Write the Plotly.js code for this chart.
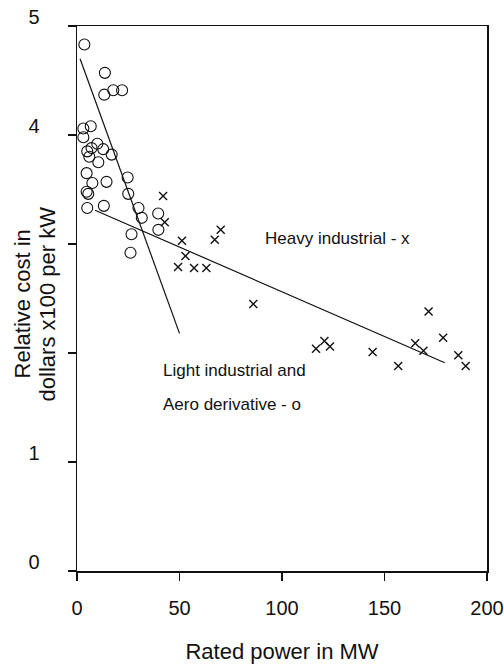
<!DOCTYPE html>
<html>
<head>
<meta charset="utf-8">
<script src="https://cdn.plot.ly/plotly-3.0.1.min.js"></script>
<style>html,body{margin:0;padding:0;background:#fff;}#chart{width:504px;height:670px;}</style>
</head>
<body>
<div id="chart"></div>
<script>
// Light industrial and aero derivative units (o)
const lightMW   = [3.6, 13.6, 13.3, 17.7, 22.0, 3.1, 6.7, 3.1, 5.0, 7.1, 9.9, 12.8, 16.9, 6.0, 10.4, 4.7, 7.5, 14.4, 24.7, 4.7, 5.5, 25.0, 5.0, 13.1, 30.0, 39.6, 31.6, 39.7, 26.6, 26.1];
const lightCost = [4.83, 4.57, 4.37, 4.41, 4.41, 4.06, 4.08, 3.98, 3.85, 3.88, 3.92, 3.87, 3.82, 3.80, 3.75, 3.65, 3.56, 3.57, 3.61, 3.48, 3.46, 3.46, 3.33, 3.35, 3.33, 3.28, 3.24, 3.13, 3.09, 2.92];
// Heavy industrial units (x)
const heavyMW   = [42.0, 42.8, 51.2, 52.9, 49.3, 57.1, 63.1, 67.2, 70.1, 86.0, 116.6, 120.7, 123.4, 144.2, 156.7, 165.0, 169.0, 171.5, 178.6, 186.0, 189.6];
const heavyCost = [3.44, 3.20, 3.03, 2.89, 2.79, 2.78, 2.78, 3.04, 3.13, 2.45, 2.04, 2.11, 2.06, 2.01, 1.88, 2.09, 2.02, 2.38, 2.14, 1.98, 1.88];
// Fitted trend lines
const lightFitMW   = [1.5, 50];
const lightFitCost = [4.70, 2.18];
const heavyFitMW   = [8.8, 179.4];
const heavyFitCost = [3.31, 1.91];
// Axis ticks and texts
const xTicks = [0, 50, 100, 150, 200];
const yTicks = [0, 1, 2, 3, 4, 5];
const yTickText = ['0', '1', '', '', '4', '5'];
const yTitleLines = ['Relative cost in', 'dollars x100 per kW'];
const xTitle = 'Rated power in MW';

const fam = 'Liberation Sans, Arial, Helvetica, sans-serif';
const tickFont = {family: fam, color: '#111', size: 20};
const titleFont = {family: fam, color: '#111', size: 22};
const noteFont = {family: fam, color: '#111', size: 17};

const traces = [
  {x: lightFitMW, y: lightFitCost, mode: 'lines', line: {color: '#111', width: 1.2}, hoverinfo: 'skip'},
  {x: heavyFitMW, y: heavyFitCost, mode: 'lines', line: {color: '#111', width: 1.2}, hoverinfo: 'skip'},
  {x: lightMW, y: lightCost, mode: 'markers', marker: {symbol: 'circle-open', size: 11, color: '#111', line: {width: 1.1, color: '#111'}}},
  {x: heavyMW, y: heavyCost, mode: 'markers', marker: {symbol: 'x-thin-open', size: 8, color: '#111', line: {width: 1.4, color: '#111'}}}
];

const layout = {
  width: 504, height: 670,
  margin: {l: 77, r: 17, t: 26, b: 99},
  paper_bgcolor: '#fff', plot_bgcolor: '#fff',
  showlegend: false,
  font: tickFont,
  xaxis: {
    range: [0, 200], tickvals: xTicks, ticks: 'outside', ticklen: 8, tickwidth: 1.2, tickcolor: '#111',
    showline: true, linecolor: '#111', linewidth: 1.5, mirror: true, showgrid: false, zeroline: false,
    ticklabelstandoff: 10, tickfont: tickFont,
    title: {text: xTitle, font: titleFont, standoff: 26}
  },
  yaxis: {
    range: [0, 5], tickvals: yTicks, ticktext: yTickText, ticks: 'outside', ticklen: 8, tickwidth: 1.2, tickcolor: '#111',
    showline: true, linecolor: '#111', linewidth: 1.5, mirror: true, showgrid: false, zeroline: false,
    ticklabelstandoff: 24, ticklabelshift: -9, tickfont: tickFont
  },
  annotations: [
    {x: -0.133, y: 0.49, xref: 'paper', yref: 'paper', text: yTitleLines[0], textangle: -90, showarrow: false, xanchor: 'center', yanchor: 'middle', font: titleFont},
    {x: -0.072, y: 0.49, xref: 'paper', yref: 'paper', text: yTitleLines[1], textangle: -90, showarrow: false, xanchor: 'center', yanchor: 'middle', font: titleFont},
    {x: 90.5, y: 3.05, xref: 'x', yref: 'y', text: 'Heavy industrial - x', showarrow: false, xanchor: 'left', yanchor: 'middle', font: noteFont},
    {x: 41, y: 1.84, xref: 'x', yref: 'y', text: 'Light industrial and', showarrow: false, xanchor: 'left', yanchor: 'middle', font: noteFont},
    {x: 41, y: 1.53, xref: 'x', yref: 'y', text: 'Aero derivative - o', showarrow: false, xanchor: 'left', yanchor: 'middle', font: noteFont}
  ]
};

Plotly.newPlot('chart', traces, layout, {displayModeBar: false, staticPlot: true});
</script>
</body>
</html>
